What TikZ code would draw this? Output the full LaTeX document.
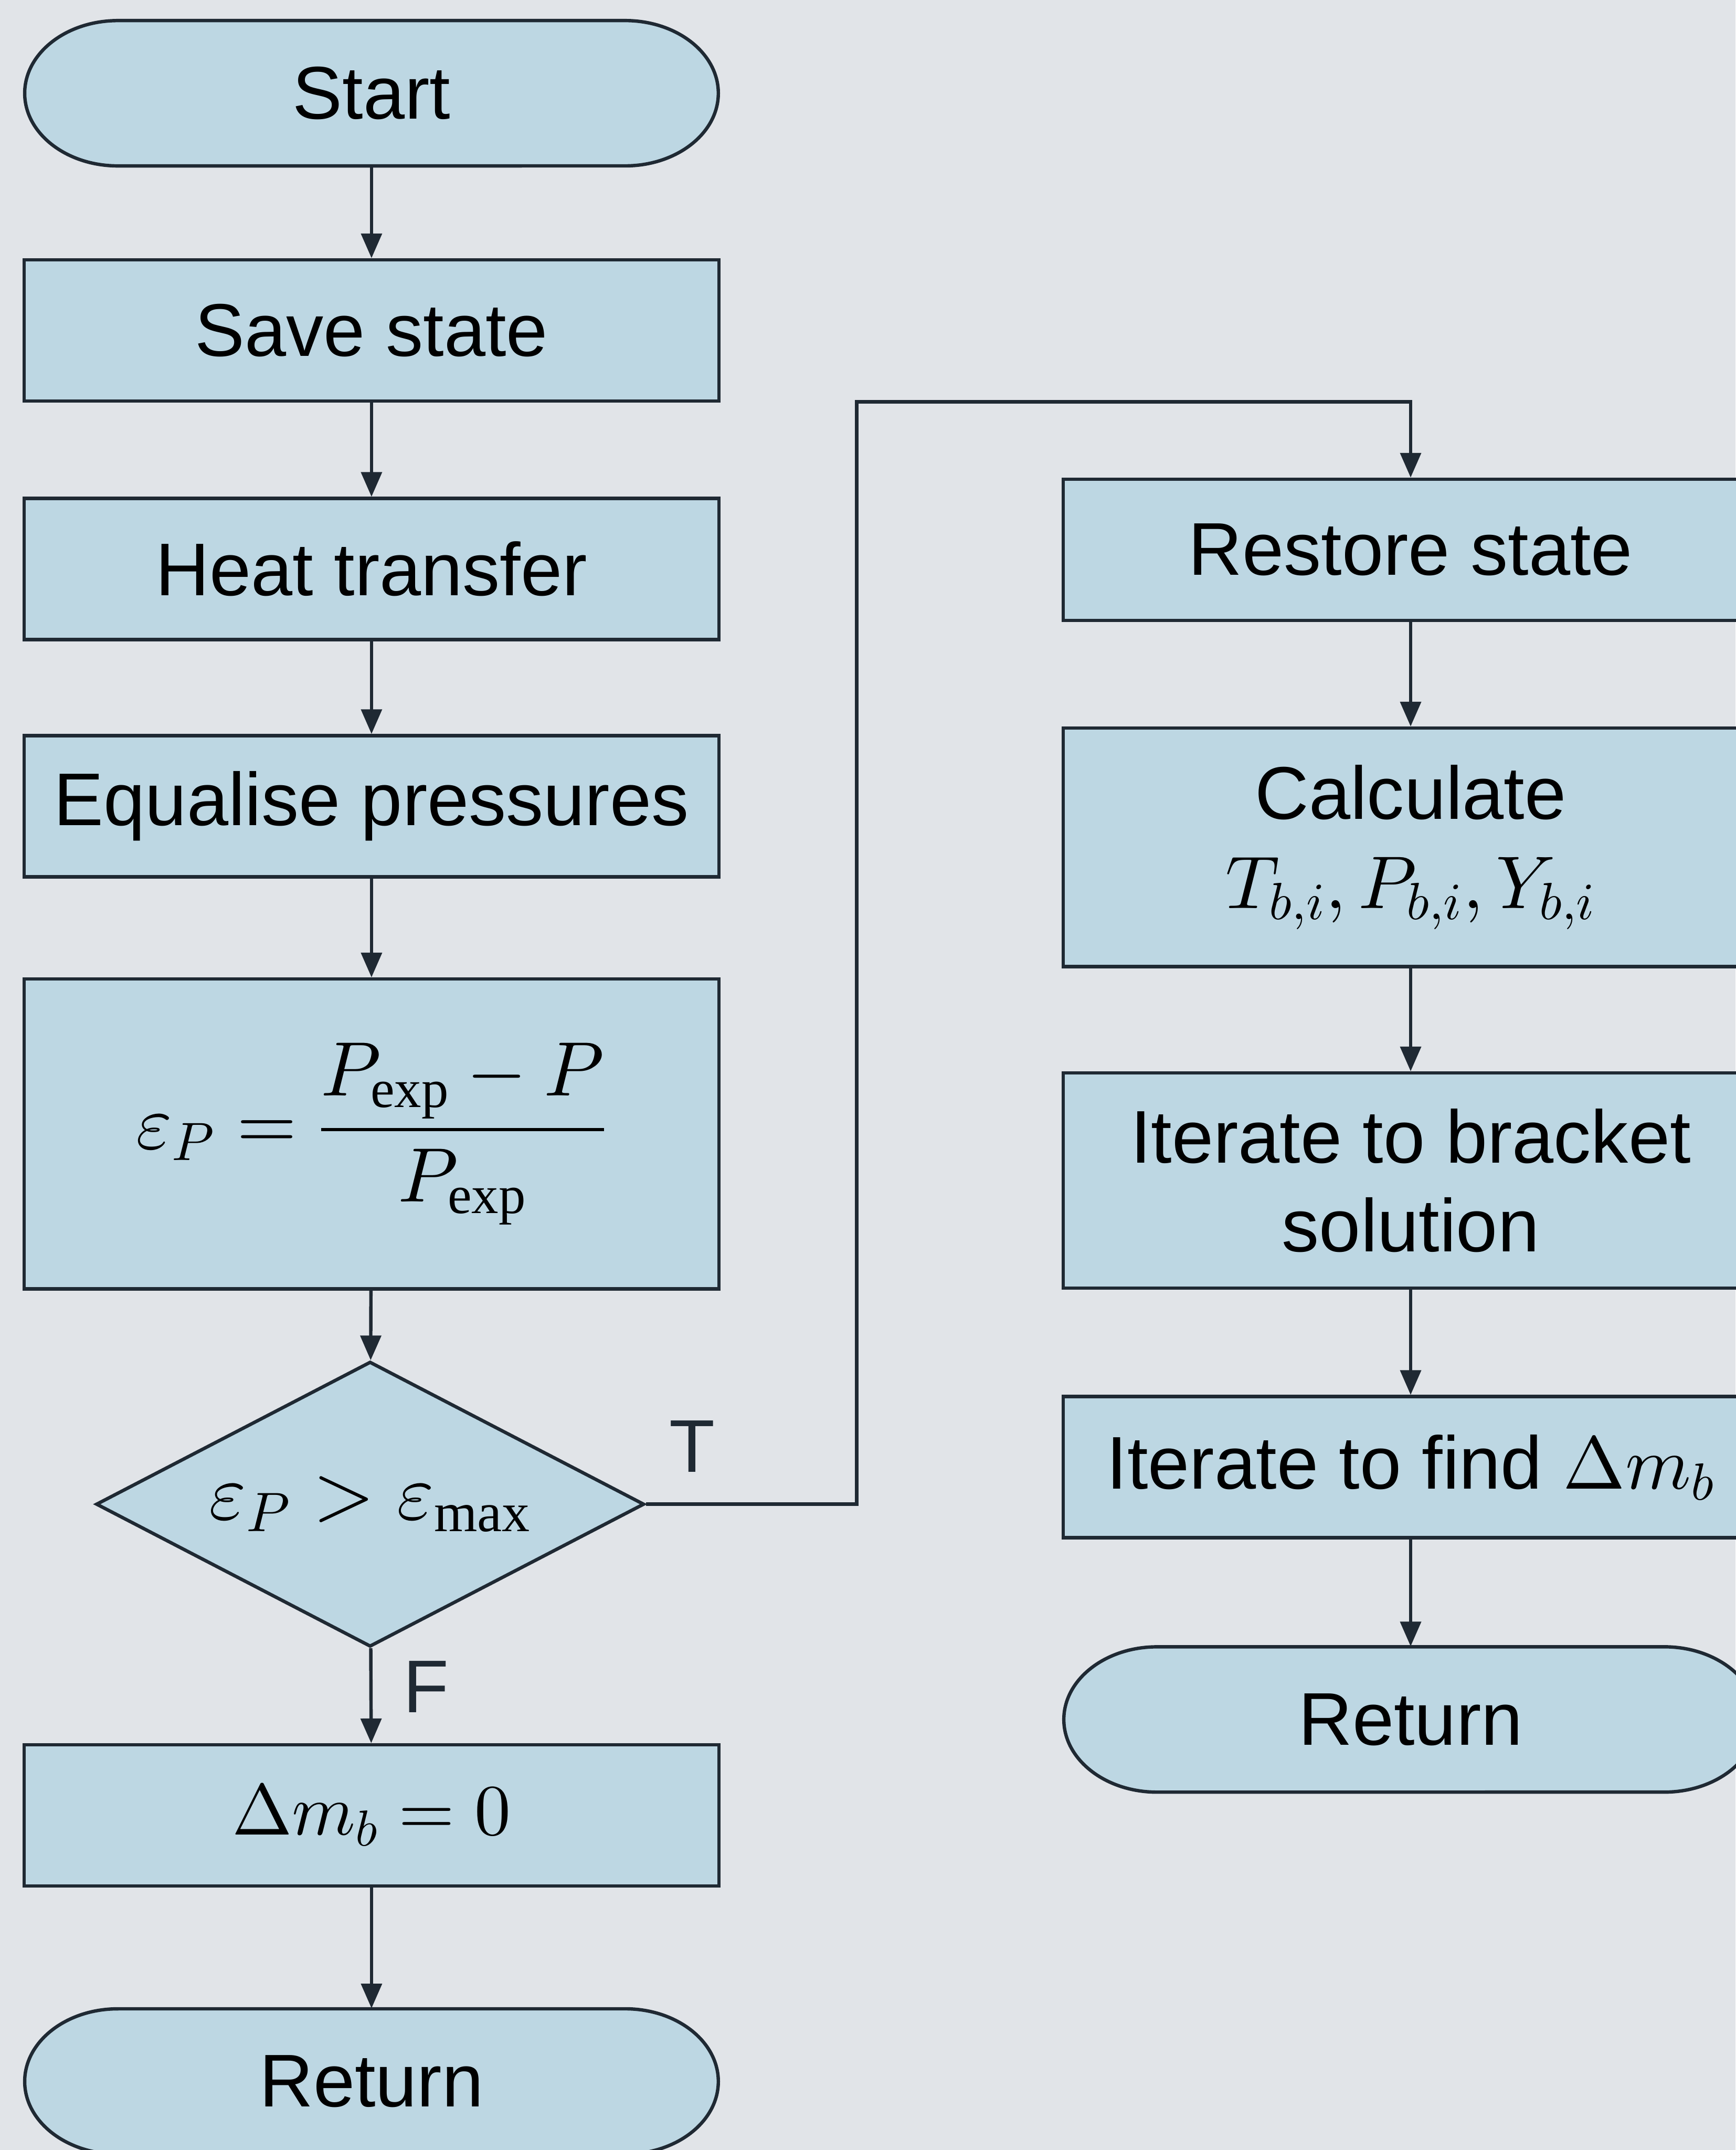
\documentclass[tikz,border=0pt]{standalone}
\usepackage{amsmath}
\usepackage{fontspec}
\setmainfont{Liberation Sans}
\setmathrm{Liberation Serif}
\DeclareFontShape{OML}{cmm}{m}{it}{<->cmmi10}{}
\DeclareFontShape{OMS}{cmsy}{m}{n}{<->cmsy10}{}
\DeclareFontShape{OMX}{cmex}{m}{n}{<->cmex10}{}
\DeclareFontShape{OT1}{cmr}{m}{n}{<->cmr10}{}
\usetikzlibrary{arrows.meta,shapes.geometric}
\definecolor{bgc}{HTML}{E1E4E8}
\definecolor{boxc}{HTML}{BDD7E3}
\definecolor{lnc}{HTML}{1F2933}
\newcommand{\flowfont}{\fontsize{31}{37}\selectfont}
\newcommand{\eqfont}{\fontsize{33}{40}\selectfont}
\newcommand{\termshape}[2]{%            % #1 = x, #2 = y of the centre
  \filldraw[draw=lnc, fill=boxc, line width=1.4pt]
    ({#1-185},{#2-53}) -- ({#1+185},{#2-53})
    arc[start angle=90, end angle=-90, x radius=1.36cm, y radius=1.06cm]
    -- ({#1-185},{#2+53})
    arc[start angle=270, end angle=90, x radius=1.36cm, y radius=1.06cm] -- cycle;}
\tikzset{
  proc/.style   = {rectangle, draw=lnc, fill=boxc, line width=1.4pt,
                   minimum width=10.14cm, minimum height=2.06cm,
                   inner sep=0pt, align=center, font=\flowfont},
  term/.style   = {rectangle, minimum width=10.14cm, minimum height=2.12cm,
                   inner sep=0pt, font=\flowfont},
  decide/.style = {diamond, draw=lnc, fill=boxc, line width=1.4pt, aspect=1.92,
                   minimum width=8cm, minimum height=4.16cm, inner sep=0pt,
                   font=\eqfont},
  flow/.style   = {draw=lnc, line width=1.4pt,
                   -{Triangle[length=3.6mm, width=3mm]}},
  tflab/.style  = {font=\flowfont, inner sep=0pt, text=lnc},
}

\begin{document}
\begin{tikzpicture}[x=0.02cm,y=-0.02cm]
  \fill[bgc] (0,0) rectangle (1266,1568);
  \useasboundingbox (0,0) rectangle (1266,1568);

  % left column
  \termshape{271}{68}
  \node[term] (start) at (271,68) {Start};
  \node[proc] (save)  at (271,241) {Save state};
  \node[proc] (heat)  at (271,415) {Heat transfer};
  \node[proc] (equal) at (271,588) {Equalise pressures};
  \node[proc, minimum height=4.52cm, font=\fontsize{32}{38}\selectfont]
    (err) at (271,827)
    {$\varepsilon_P = \dfrac{P_{\mathrm{exp}}-P}{P_{\mathrm{exp}}}$};
  \node[decide] (test) at (270,1097) {$\varepsilon_P > \varepsilon_{\mathrm{max}}$};
  \node[proc, font=\fontsize{30}{36}\selectfont] (zero) at (271,1324)
    {$\Delta m_b = 0$};
  \termshape{271}{1518}
  \node[term] (retl) at (271,1518) {Return};

  % right column
  \node[proc] (restore) at (1029,401) {Restore state};
  \node[proc, minimum height=3.48cm] (calc) at (1029,618)
    {Calculate\\ $T_{b,i}, P_{b,i}, Y_{b,i}$};
  \node[proc, minimum height=3.14cm] (brack) at (1029,861)
    {Iterate to bracket\\ solution};
  \node[proc] (find) at (1029,1070) {Iterate to find $\Delta m_b$};
  \termshape{1029}{1254}
  \node[term] (retr) at (1029,1254) {Return};

  \draw[flow] (start) -- (save);
  \draw[flow] (save) -- (heat);
  \draw[flow] (heat) -- (equal);
  \draw[flow] (equal) -- (err);
  \draw[flow] (err) -- (test);
  \draw[flow] (test) -- (zero);
  \draw[flow] (zero) -- (retl);

  \coordinate (bend) at (625,293);
  \draw[flow] (test.east) -| (bend) -| (restore.north);
  \draw[flow] (restore) -- (calc);
  \draw[flow] (calc) -- (brack);
  \draw[flow] (brack) -- (find);
  \draw[flow] (find) -- (retr);

  \node[tflab] (tlab) at (505,1055) {T};
  \node[tflab] (flab) at (311,1230) {F};
\end{tikzpicture}
\end{document}
